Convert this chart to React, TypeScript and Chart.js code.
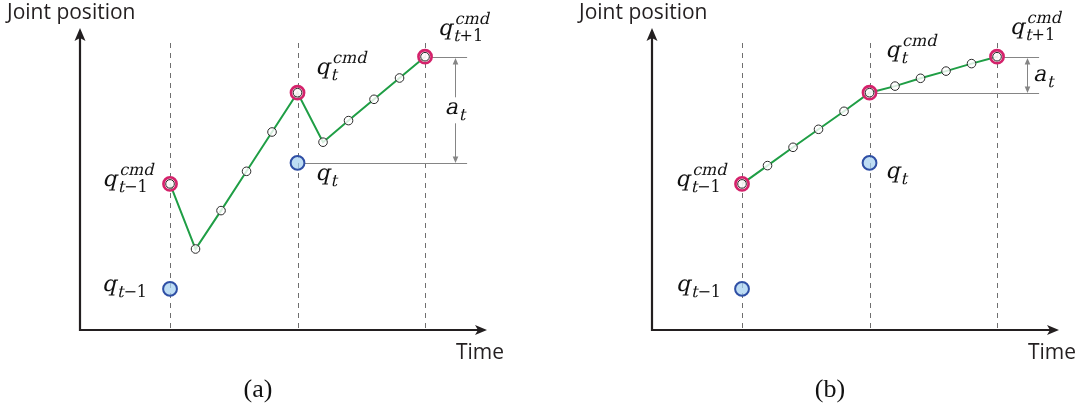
import { useEffect, useRef } from "react";
import { Chart, registerables } from "chart.js";

Chart.register(...registerables);

// ---------- data ----------
const timeSteps = [1, 1.2, 1.4, 1.6, 1.8, 2, 2.2, 2.4, 2.6, 2.8, 3];
const commandPathA = [4.87, 2.7, 3.98, 5.29, 6.6, 7.91, 6.26, 6.98, 7.69, 8.4, 9.11];
const commandPathB = [4.87, 5.48, 6.09, 6.69, 7.29, 7.91, 8.13, 8.39, 8.63, 8.88, 9.11];
const actualTimes = [1, 2];
const actualPositions = [1.37, 5.57];
const stepTimes = [1, 2, 3];
const xRange = [0.294, 3.486];
const yRange = [0, 10];
const yTitle = "Joint position";
const xTitle = "Time";
const captions = ["(a)", "(b)"];

// ---------- annotation layout ----------
type Ref = ["cmd" | "act", number];
type MathLabel = {
  base: string;
  sub: string;
  sup?: string;
  ref: Ref;
  align: "left" | "right";
  dx: number;
  dy: number;
};
type PanelCfg = {
  id: string;
  caption: string;
  path: number[];
  padLeft: number;
  padRight: number;
  labels: MathLabel[];
  lower: Ref;
  upper: Ref;
  arrowT: number;
  lineEndT: number;
  gapLabel: { align: "center" | "left"; dx: number; dy: number; bg: boolean };
};

const panelA: PanelCfg = {
  id: "a",
  caption: captions[0],
  path: commandPathA,
  padLeft: 80,
  padRight: 52,
  labels: [
    { base: "q", sub: "t\u22121", sup: "cmd", ref: ["cmd", 0], align: "right", dx: -17, dy: 2 },
    { base: "q", sub: "t\u22121", ref: ["act", 0], align: "right", dx: -23, dy: 2 },
    { base: "q", sub: "t", sup: "cmd", ref: ["cmd", 5], align: "left", dx: 18, dy: -19 },
    { base: "q", sub: "t+1", sup: "cmd", ref: ["cmd", 10], align: "left", dx: 13, dy: -22 },
    { base: "q", sub: "t", ref: ["act", 1], align: "left", dx: 18, dy: 17 },
  ],
  lower: ["act", 1],
  upper: ["cmd", 10],
  arrowT: 3.235,
  lineEndT: 3.33,
  gapLabel: { align: "center", dx: 0, dy: 4.5, bg: true },
};

const panelB: PanelCfg = {
  id: "b",
  caption: captions[1],
  path: commandPathB,
  padLeft: 113,
  padRight: 19,
  labels: [
    { base: "q", sub: "t\u22121", sup: "cmd", ref: ["cmd", 0], align: "right", dx: -16, dy: 2 },
    { base: "q", sub: "t\u22121", ref: ["act", 0], align: "right", dx: -21, dy: 2 },
    { base: "q", sub: "t", sup: "cmd", ref: ["cmd", 5], align: "left", dx: 16, dy: -36 },
    { base: "q", sub: "t+1", sup: "cmd", ref: ["cmd", 10], align: "left", dx: 13, dy: -23 },
    { base: "q", sub: "t", ref: ["act", 1], align: "left", dx: 16, dy: 15 },
  ],
  lower: ["cmd", 5],
  upper: ["cmd", 10],
  arrowT: 3.235,
  lineEndT: 3.33,
  gapLabel: { align: "left", dx: 6, dy: 6.5, bg: false },
};

// ---------- drawing helpers ----------
const MATH_FAMILY = '"DejaVu Serif", "Liberation Serif", serif';
const BASE_SIZE = 22;
const SMALL_SIZE = 16;
const SHEAR = -0.24;

function isLetter(ch: string) {
  return /[a-z]/i.test(ch);
}
function measureRun(ctx: CanvasRenderingContext2D, s: string, size: number) {
  ctx.font = `${size}px ${MATH_FAMILY}`;
  let w = 0;
  for (const ch of s) w += ctx.measureText(ch).width;
  return w;
}
function drawRun(ctx: CanvasRenderingContext2D, s: string, x: number, y: number, size: number) {
  ctx.font = `${size}px ${MATH_FAMILY}`;
  let cx = x;
  for (const ch of s) {
    const w = ctx.measureText(ch).width;
    if (isLetter(ch)) {
      ctx.save();
      ctx.translate(cx, y);
      ctx.transform(1, 0, SHEAR, 1, 0, 0);
      ctx.fillText(ch, 0, 0);
      ctx.restore();
    } else {
      ctx.fillText(ch, cx, y);
    }
    cx += w;
  }
}
function drawMath(
  ctx: CanvasRenderingContext2D,
  x: number,
  y: number,
  base: string,
  sub: string,
  sup: string | undefined,
  align: "left" | "right" | "center",
  bg: boolean
) {
  ctx.textAlign = "left";
  ctx.textBaseline = "alphabetic";
  const bw = measureRun(ctx, base, BASE_SIZE) + 1;
  const sw = sub ? measureRun(ctx, sub, SMALL_SIZE) : 0;
  const pw = sup ? measureRun(ctx, sup, SMALL_SIZE) + 1 : 0;
  const total = bw + Math.max(sw, pw);
  const x0 = align === "right" ? x - total : align === "center" ? x - total / 2 : x;
  if (bg) {
    ctx.fillStyle = "#ffffff";
    ctx.fillRect(x0 - 3, y - 17, total + 6, 26);
  }
  ctx.fillStyle = "#111111";
  drawRun(ctx, base, x0, y, BASE_SIZE);
  if (sub) drawRun(ctx, sub, x0 + bw, y + 6, SMALL_SIZE);
  if (sup) drawRun(ctx, sup, x0 + bw + 1.5, y - 11, SMALL_SIZE);
}

function refValue(cfg: PanelCfg, r: Ref) {
  return r[0] === "cmd"
    ? { t: timeSteps[r[1]], v: cfg.path[r[1]] }
    : { t: actualTimes[r[1]], v: actualPositions[r[1]] };
}

function makePlugin(cfg: PanelCfg) {
  return {
    id: "diagram_" + cfg.id,
    beforeDatasetsDraw(chart: any) {
      const { ctx, chartArea: ca, scales } = chart;
      const x = scales.x;
      const y = scales.y;
      ctx.save();
      // dashed time-step lines
      ctx.strokeStyle = "#6f6f6f";
      ctx.lineWidth = 1;
      ctx.setLineDash([5, 5]);
      for (const t of stepTimes) {
        const px = Math.round(x.getPixelForValue(t)) + 0.5;
        ctx.beginPath();
        ctx.moveTo(px, ca.top + 13);
        ctx.lineTo(px, ca.bottom);
        ctx.stroke();
      }
      ctx.setLineDash([]);

      // axes
      ctx.strokeStyle = "#231f20";
      ctx.fillStyle = "#231f20";
      ctx.lineWidth = 2.2;
      ctx.beginPath();
      ctx.moveTo(ca.left, ca.bottom + 1);
      ctx.lineTo(ca.left, ca.top + 6);
      ctx.moveTo(ca.left - 1, ca.bottom);
      ctx.lineTo(ca.right - 6, ca.bottom);
      ctx.stroke();
      // y arrow head
      ctx.beginPath();
      ctx.moveTo(ca.left, ca.top - 2);
      ctx.lineTo(ca.left + 5.5, ca.top + 11);
      ctx.lineTo(ca.left, ca.top + 8);
      ctx.lineTo(ca.left - 5.5, ca.top + 11);
      ctx.closePath();
      ctx.fill();
      // x arrow head
      ctx.beginPath();
      ctx.moveTo(ca.right, ca.bottom);
      ctx.lineTo(ca.right - 12, ca.bottom - 5);
      ctx.lineTo(ca.right - 9, ca.bottom);
      ctx.lineTo(ca.right - 12, ca.bottom + 5);
      ctx.closePath();
      ctx.fill();

      // reference levels and gap arrow
      const lo = refValue(cfg, cfg.lower);
      const up = refValue(cfg, cfg.upper);
      const yL = Math.round(y.getPixelForValue(lo.v)) + 0.5;
      const yU = Math.round(y.getPixelForValue(up.v)) + 0.5;
      const xEnd = x.getPixelForValue(cfg.lineEndT);
      ctx.strokeStyle = "#858585";
      ctx.fillStyle = "#858585";
      ctx.lineWidth = 1;
      ctx.beginPath();
      ctx.moveTo(x.getPixelForValue(lo.t) + 7, yL);
      ctx.lineTo(xEnd, yL);
      ctx.moveTo(x.getPixelForValue(up.t) + 7, yU);
      ctx.lineTo(xEnd, yU);
      const ax = Math.round(x.getPixelForValue(cfg.arrowT)) + 0.5;
      ctx.moveTo(ax, yU + 5);
      ctx.lineTo(ax, yL - 5);
      ctx.stroke();
      ctx.beginPath();
      ctx.moveTo(ax, yU + 0.5);
      ctx.lineTo(ax + 2.8, yU + 7);
      ctx.lineTo(ax - 2.8, yU + 7);
      ctx.closePath();
      ctx.moveTo(ax, yL - 0.5);
      ctx.lineTo(ax + 2.8, yL - 7);
      ctx.lineTo(ax - 2.8, yL - 7);
      ctx.closePath();
      ctx.fill();
      ctx.restore();
    },
    afterDatasetsDraw(chart: any) {
      const { ctx, chartArea: ca, scales } = chart;
      const x = scales.x;
      const y = scales.y;
      ctx.save();
      for (const l of cfg.labels) {
        const p = refValue(cfg, l.ref);
        const px = x.getPixelForValue(p.t);
        const py = y.getPixelForValue(p.v);
        drawMath(ctx, px + l.dx, py + l.dy, l.base, l.sub, l.sup, l.align, false);
      }
      // gap label a_t
      const lo = refValue(cfg, cfg.lower);
      const up = refValue(cfg, cfg.upper);
      const mid = (y.getPixelForValue(lo.v) + y.getPixelForValue(up.v)) / 2;
      const ax = x.getPixelForValue(cfg.arrowT);
      const g = cfg.gapLabel;
      drawMath(ctx, ax + g.dx, mid + g.dy, "a", "t", undefined, g.align, g.bg);

      // axis titles
      ctx.fillStyle = "#231f20";
      ctx.textBaseline = "alphabetic";
      ctx.font = '21px "Open Sans"';
      ctx.textAlign = "left";
      ctx.fillText(yTitle, ca.left - 73, 19);
      ctx.fillText(xTitle, ca.right - 31, ca.bottom + 29);
      // caption
      ctx.fillStyle = "#111111";
      ctx.font = '26px "Liberation Serif"';
      ctx.textAlign = "center";
      ctx.fillText(cfg.caption, ca.left + 178, ca.bottom + 67);
      ctx.restore();
    },
  };
}

function buildConfig(cfg: PanelCfg): any {
  const pathPts = timeSteps.map((t, i) => ({ x: t, y: cfg.path[i] }));
  const ringPts = pathPts.filter((p) => stepTimes.includes(p.x));
  const actualPts = actualTimes.map((t, i) => ({ x: t, y: actualPositions[i] }));
  return {
    type: "scatter",
    data: {
      datasets: [
        {
          data: pathPts,
          showLine: true,
          borderColor: "#1f9e45",
          borderWidth: 2,
          pointRadius: 0,
          tension: 0,
          order: 4,
        },
        {
          data: ringPts,
          pointRadius: 6.6,
          borderWidth: 2.6,
          borderColor: "#d4226b",
          backgroundColor: "rgba(236, 180, 200, 0.55)",
          order: 3,
        },
        {
          data: pathPts,
          pointRadius: 4.3,
          borderWidth: 1,
          borderColor: "#2a2a2a",
          backgroundColor: "rgba(255,255,255,0.82)",
          order: 2,
        },
        {
          data: actualPts,
          pointRadius: 6.9,
          borderWidth: 2,
          borderColor: "#2f4fa5",
          backgroundColor: "rgba(165, 208, 240, 0.72)",
          order: 1,
        },
      ],
    },
    options: {
      animation: false,
      responsive: false,
      maintainAspectRatio: false,
      devicePixelRatio: 1,
      events: [],
      layout: { padding: { left: cfg.padLeft, right: cfg.padRight, top: 30, bottom: 84 } },
      scales: {
        x: { type: "linear", min: xRange[0], max: xRange[1], display: false },
        y: { type: "linear", min: yRange[0], max: yRange[1], display: false },
      },
      plugins: { legend: { display: false }, tooltip: { enabled: false } },
      elements: { point: { hoverRadius: 0 } },
    },
    plugins: [makePlugin(cfg)],
  };
}

function Panel({ cfg }: { cfg: PanelCfg }) {
  const ref = useRef<HTMLCanvasElement>(null);
  useEffect(() => {
    if (!ref.current) return;
    const chart = new Chart(ref.current, buildConfig(cfg));
    return () => chart.destroy();
  }, [cfg]);
  return (
    <canvas
      ref={ref}
      width={539}
      height={414}
      style={{ display: "block", width: 539, height: 414 }}
    />
  );
}

export default function App() {
  return (
    <div
      style={{
        position: "absolute",
        left: 0,
        top: 0,
        width: 1078,
        height: 414,
        display: "flex",
        background: "#ffffff",
      }}
    >
      <Panel cfg={panelA} />
      <Panel cfg={panelB} />
    </div>
  );
}
